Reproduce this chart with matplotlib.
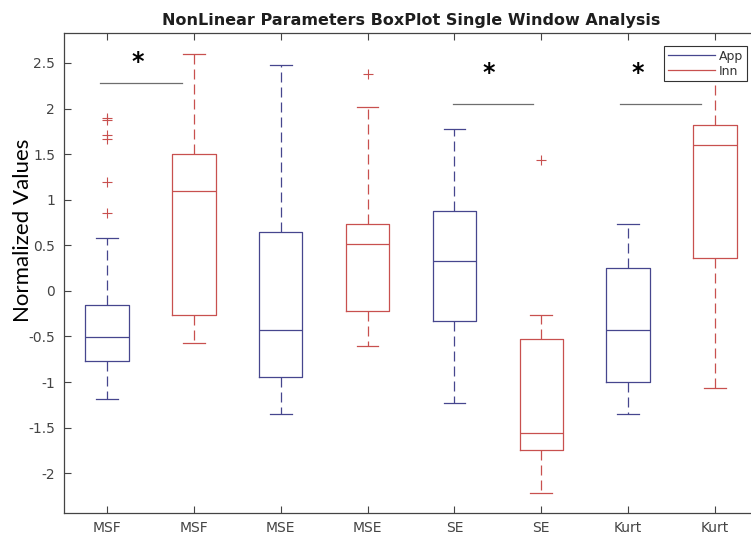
import matplotlib
matplotlib.use("Agg")
import matplotlib.pyplot as plt
from matplotlib.lines import Line2D

# Feature names and group for each box (App / Inn alternate)
labels = ["MSF", "MSF", "MSE", "MSE", "SE", "SE", "Kurt", "Kurt"]
groups = ["App", "Inn", "App", "Inn", "App", "Inn", "App", "Inn"]

# Box statistics per box
whislo = [-1.19, -0.57, -1.35, -0.60, -1.23, -2.22, -1.35, -1.06]
q1 = [-0.77, -0.26, -0.94, -0.22, -0.33, -1.74, -1.00, 0.36]
med = [-0.51, 1.10, -0.43, 0.51, 0.33, -1.56, -0.43, 1.60]
q3 = [-0.16, 1.50, 0.65, 0.73, 0.88, -0.53, 0.25, 1.82]
whishi = [0.58, 2.60, 2.48, 2.02, 1.78, -0.27, 0.73, 2.45]
fliers = [[1.90, 1.87, 1.71, 1.67, 1.19, 0.85], [], [], [2.38], [], [1.43], [], []]

# Significance markers: (x start, x end, bar height, star x, star y)
sig_bars = [
    (0.92, 1.86, 2.28, 1.35, 2.51),
    (4.98, 5.91, 2.044, 5.40, 2.39),
    (6.90, 7.84, 2.044, 7.11, 2.39),
]

yticks = [-2, -1.5, -1, -0.5, 0, 0.5, 1, 1.5, 2, 2.5]

APP_COLOR = "#46468e"
INN_COLOR = "#c8504f"
colors = {"App": APP_COLOR, "Inn": INN_COLOR}

W, H = 751, 537
fig = plt.figure(figsize=(W / 100, H / 100), dpi=100)
ax = fig.add_axes([63.5 / W, 24 / H, 695 / W, 480 / H])

positions = list(range(1, len(labels) + 1))
for i, pos in enumerate(positions):
    c = colors[groups[i]]
    stats = [{
        "whislo": whislo[i], "q1": q1[i], "med": med[i],
        "q3": q3[i], "whishi": whishi[i], "fliers": fliers[i],
    }]
    ax.bxp(
        stats, positions=[pos], widths=0.5, showfliers=True,
        boxprops=dict(color=c, linewidth=0.9),
        medianprops=dict(color=c, linewidth=0.9),
        whiskerprops=dict(color=c, linewidth=0.9, linestyle=(0, (8, 4))),
        capprops=dict(color=c, linewidth=0.9),
        flierprops=dict(marker="+", markeredgecolor=INN_COLOR,
                        markersize=7, markeredgewidth=0.8, linestyle="none"),
        manage_ticks=False,
    )

for x0, x1, yb, sx, sy in sig_bars:
    ax.plot([x0, x1], [yb, yb], color="#6e6e6e", linewidth=0.9)
    ax.text(sx, sy, "*", ha="center", va="center", fontsize=17,
            fontweight="bold", color="black")

ax.set_xlim(0.5, len(labels) + 0.5)
ax.set_ylim(-2.436, 2.828)
ax.set_xticks(positions)
ax.set_xticklabels(labels)
ax.set_yticks(yticks)
ax.set_yticklabels([f"{v:g}" for v in yticks])

ax.tick_params(direction="in", top=True, right=True, length=5,
               width=0.8, color="#444444", labelcolor="#444444",
               labelsize=10)
ax.tick_params(axis="x", pad=6)
ax.tick_params(axis="y", pad=6)
for sp in ax.spines.values():
    sp.set_color("#444444")
    sp.set_linewidth(0.9)

ax.set_title("NonLinear Parameters BoxPlot Single Window Analysis",
             fontsize=11.5, fontweight="bold", color="#1e1e1e", pad=6)

fig.text(23 / W, 1 - 230 / H, "Normalized Values", rotation=90,
         ha="center", va="center", fontsize=16, family="Lato",
         color="black")

handles = [Line2D([], [], color=APP_COLOR, linewidth=0.9),
           Line2D([], [], color=INN_COLOR, linewidth=0.9)]
leg = fig.legend(handles, ["App", "Inn"], loc="upper left",
                 bbox_to_anchor=(664 / W, 1 - 46 / H),
                 fontsize=9, frameon=True, fancybox=False,
                 edgecolor="#333333", framealpha=1, handlelength=3.8,
                 handletextpad=0.3, labelspacing=0.15, borderpad=0.3,
                 borderaxespad=0)
leg.get_frame().set_linewidth(0.8)
for t in leg.get_texts():
    t.set_color("#333333")

fig.savefig("out.png", dpi=100)
